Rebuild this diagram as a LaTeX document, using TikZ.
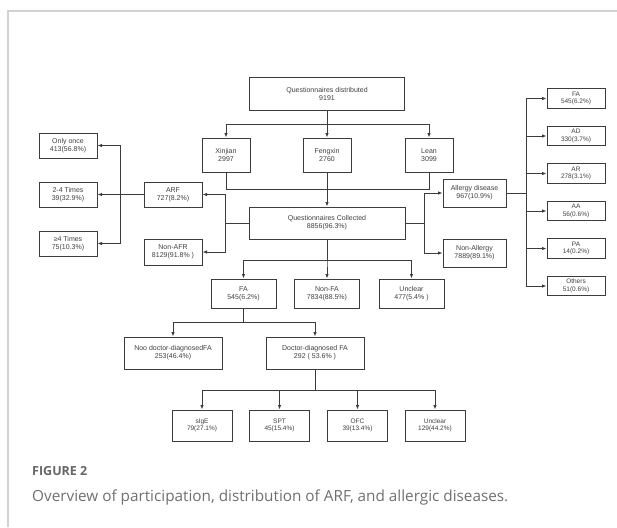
\documentclass[tikz,border=0pt]{standalone}
\usepackage{fontspec}
\usepackage{xcolor}
\usepackage{tikz}
\usetikzlibrary{arrows.meta,positioning}
\newfontfamily\boxfont{Liberation Sans}
\newfontfamily\capfont{Open Sans}
\definecolor{boxline}{HTML}{3C3C3C}
\definecolor{frameline}{HTML}{D2D2D2}
\definecolor{captext}{HTML}{707070}
\definecolor{figlabel}{HTML}{666666}

\begin{document}
\begin{tikzpicture}[
    x=1pt, y=-1pt,
    box/.style={draw=boxline, line width=1pt, fill=white, inner sep=0pt,
                align=center, text=black!75, font=\boxfont\fontsize{7}{8}\selectfont},
    site/.style={box, minimum width=48pt, minimum height=34pt},
    mid/.style={box, minimum width=58pt, minimum height=25pt},
    list/.style={box, minimum width=58pt, minimum height=19.5pt,
                 font=\boxfont\fontsize{6.5}{7.5}\selectfont},
    group/.style={box, minimum width=65pt, minimum height=29pt},
    diag/.style={box, minimum width=98pt, minimum height=32pt},
    test/.style={box, minimum width=60pt, minimum height=31pt,
                 font=\boxfont\fontsize{6.5}{7.5}\selectfont},
    flow/.style={-{Latex[length=4.5pt,width=3.5pt]}, line width=0.9pt, draw=boxline},
    link/.style={line width=0.9pt, draw=boxline},
    frame/.style={draw=frameline, line width=1.5pt}
]
\useasboundingbox (0,0) rectangle (617,527);
\fill[white] (0,0) rectangle (617,527);

% Frame
\draw[frame] (8,527) -- (8,11) -- (617,11);

% Top: distribution by site
\node[box, minimum width=155pt, minimum height=33pt] (qd) at (327,93.5) {Questionnaires distributed\\9191};
\node[site] (xinjian) at (226,155) {Xinjian\\2997};
\node[site] (fengxin) at (327,155) {Fengxin\\2760};
\node[site] (lean) at (429,155) {Lean\\3099};

\node[box, minimum width=156pt, minimum height=32pt] (qc) at (327,223) {Questionnaires Collected\\8856(96.3\%)};

% Left: ARF
\node[mid] (arf) at (173,194.5) {ARF\\727(8.2\%)};
\node[mid, minimum height=26pt] (nonarf) at (173,252) {Non-AFR\\8129(91.8\% )};
\node[mid] (once) at (68,145.5) {Only once\\413(56.8\%)};
\node[mid] (times2) at (68,194.5) {2-4 Times\\39(32.9\%)};
\node[mid] (times4) at (68,243.5) {≥4 Times\\75(10.3\%)};

% Right: allergy diseases
\node[mid, minimum width=63pt, minimum height=28pt] (allergy) at (474.5,193) {Allergy disease\\967(10.9\%)};
\node[mid, minimum width=63pt, minimum height=28pt] (nonallergy) at (474.5,253) {Non-Allergy\\7889(89.1\%)};

\node[list] (rfa) at (576,98.5) {FA\\545(6.2\%)};
\node[list] (ad) at (576,136) {AD\\330(3.7\%)};
\node[list] (ar) at (576,173.5) {AR\\278(3.1\%)};
\node[list] (aa) at (576,211) {AA\\56(0.6\%)};
\node[list] (pa) at (576,248.5) {PA\\14(0.2\%)};
\node[list] (others) at (576,286) {Others\\51(0.6\%)};

% Bottom: food allergy
\node[group] (fa) at (243.5,293.5) {FA\\545(6.2\%)};
\node[group] (nonfa) at (327,293.5) {Non-FA\\7834(88.5\%)};
\node[group] (unclear) at (411.5,293.5) {Unclear\\477(5.4\% )};

\node[diag] (nodoc) at (173,353) {Noo doctor-diagnosedFA\\253(46.4\%)};
\node[diag] (doc) at (315,353) {Doctor-diagnosed FA\\292 ( 53.6\% )};

\node[test] (sige) at (202,425.5) {sIgE\\79(27.1\%)};
\node[test] (spt) at (279.5,425.5) {SPT\\45(15.4\%)};
\node[test] (ofc) at (357.5,425.5) {OFC\\39(13.4\%)};
\node[test] (unclearb) at (435,425.5) {Unclear\\129(44.2\%)};

% Caption
\node[anchor=base west, inner sep=0pt, text=figlabel,
      font=\capfont\bfseries\fontsize{12.5}{14}\selectfont] (figno) at (32,475) {FIGURE 2};
\node[anchor=base west, inner sep=0pt, text=captext,
      font=\capfont\fontsize{15.3}{18}\selectfont] (caption) at (32,501)
      {Overview of participation, distribution of ARF, and allergic diseases.};

% Distribution to sites
\draw[flow] (qd.south) -- ++(0,14) -| (xinjian.north);
\draw[flow] (qd.south) -- (fengxin.north);
\draw[flow] (qd.south) -- ++(0,14) -| (lean.north);

% Sites to collected
\draw[link] (xinjian.south) -- ++(0,17) -| (lean.south);
\draw[flow] (fengxin.south) -- (qc.north);

% ARF branch
\draw[flow] (qc.west) -- ++(-23,0) |- (arf.east);
\draw[flow] (qc.west) -- ++(-23,0) |- (nonarf.east);
\draw[flow] (arf.west) -- (times2.east);
\coordinate (arfsplit) at (120,194.5);
\draw[flow] (arfsplit) |- (once.east);
\draw[flow] (arfsplit) |- (times4.east);

% Allergy branch
\draw[flow] (qc.east) -- ++(19,0) |- (allergy.west);
\draw[flow] (qc.east) -- ++(19,0) |- (nonallergy.west);
\foreach \d in {rfa,ad,ar,aa,pa,others}
    \draw[flow] (allergy.east) -- ++(20,0) |- (\d.west);

% FA branch
\foreach \c in {fa,nonfa,unclear}
    \draw[flow] (qc.south) -- ++(0,21) -| (\c.north);
\foreach \c in {nodoc,doc}
    \draw[flow] (fa.south) -- ++(0,14) -| (\c.north);
\foreach \c in {sige,spt,ofc,unclearb}
    \draw[flow] (doc.south) -- ++(0,21) -| (\c.north);

\end{tikzpicture}
\end{document}
